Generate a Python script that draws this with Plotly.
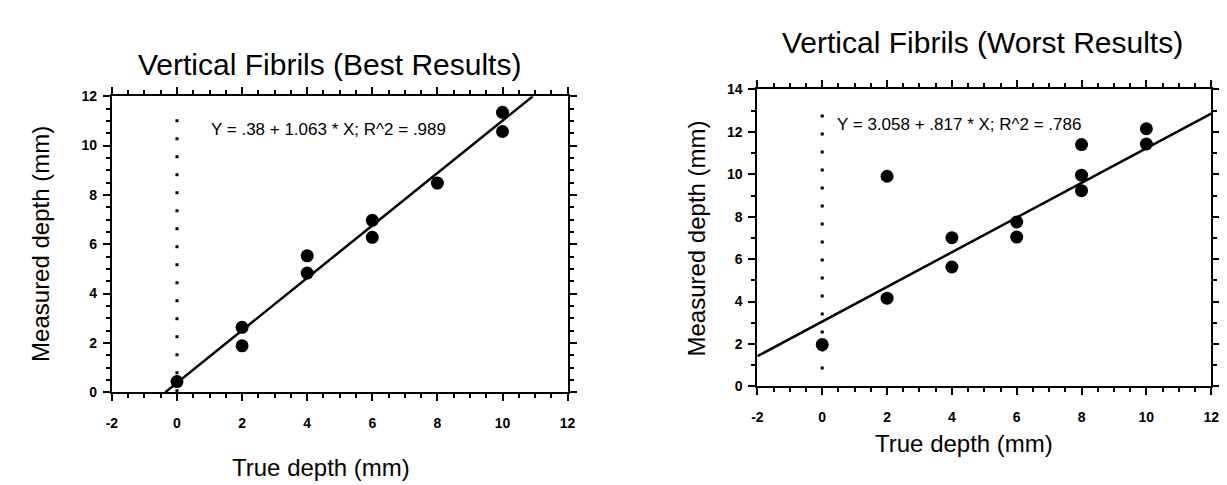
import plotly.graph_objects as go

# ---- data ----
best_x = [0, 2, 2, 4, 4, 6, 6, 8, 10, 10]
best_y = [0.43, 2.63, 1.88, 5.53, 4.83, 6.97, 6.28, 8.48, 11.35, 10.57]
best_intercept = 0.38
best_slope = 1.063
best_fit_x = [-0.357, 10.93]

worst_x = [0, 2, 2, 4, 4, 6, 6, 8, 8, 8, 10, 10]
worst_y = [1.97, 9.91, 4.16, 7.01, 5.63, 7.75, 7.04, 11.40, 9.96, 9.23, 12.15, 11.43]
worst_intercept = 3.058
worst_slope = 0.817
worst_fit_x = [-2, 12]

x_tickvals = [-2, 0, 2, 4, 6, 8, 10, 12]
x_ticktext = ["-2", "0", "2", "4", "6", "8", "10", "12"]
y_tickvals_best = [0, 2, 4, 6, 8, 10, 12]
y_tickvals_worst = [0, 2, 4, 6, 8, 10, 12, 14]

best_eq = "Y = .38 + 1.063 * X; R^2 = .989"
worst_eq = "Y = 3.058 + .817 * X; R^2 = .786"
titles = ["Vertical Fibrils (Best Results)", "Vertical Fibrils (Worst Results)"]
xlabel = "True depth (mm)"
ylabel = "Measured depth (mm)"
zero_line_best = [0, 11.4]
zero_line_worst = [0.8, 13.4]

FONT = "Liberation Sans, Arial, sans-serif"

fig = go.Figure()

def add_panel(xs, ys, b0, b1, fitx, zl, xa, ya):
    fig.add_trace(go.Scatter(x=[0, 0], y=zl, mode="lines", xaxis=xa, yaxis=ya,
                             line=dict(color="black", width=3, dash="3px,15px"),
                             showlegend=False, hoverinfo="skip"))
    fig.add_trace(go.Scatter(x=fitx, y=[b0 + b1 * v for v in fitx], mode="lines",
                             xaxis=xa, yaxis=ya, line=dict(color="black", width=2.5),
                             showlegend=False))
    fig.add_trace(go.Scatter(x=xs, y=ys, mode="markers", xaxis=xa, yaxis=ya,
                             marker=dict(color="black", size=13),
                             showlegend=False))

add_panel(best_x, best_y, best_intercept, best_slope, best_fit_x, zero_line_best, "x", "y")
add_panel(worst_x, worst_y, worst_intercept, worst_slope, worst_fit_x, zero_line_worst, "x2", "y2")

tickfont = dict(family=FONT, size=14, color="black", weight="bold")

def xaxis(domain, anchor):
    return dict(domain=domain, anchor=anchor, range=[-2, 12], tickmode="array",
                tickvals=x_tickvals, ticktext=x_ticktext,
                showgrid=False, zeroline=False, showline=True, linecolor="black", linewidth=2,
                mirror="ticks", ticks="outside", ticklen=7, tickwidth=2, tickcolor="black",
                tickfont=tickfont, ticklabelstandoff=10,
                minor=dict(dtick=0.5, tick0=-2, ticks="outside", ticklen=4, tickwidth=1.5,
                           tickcolor="black", showgrid=False))

def yaxis(domain, anchor, rng, tv, mdt):
    return dict(domain=domain, anchor=anchor, range=rng, tickmode="array",
                tickvals=tv, ticktext=[str(v) for v in tv],
                showgrid=False, zeroline=False, showline=True, linecolor="black", linewidth=2,
                mirror="ticks", ticks="outside", ticklen=7, tickwidth=2, tickcolor="black",
                tickfont=tickfont, ticklabelstandoff=3,
                minor=dict(dtick=mdt, tick0=0, ticks="outside", ticklen=4, tickwidth=1.5,
                           tickcolor="black", showgrid=False))

W, H = 1227, 485
fig.update_layout(
    width=W, height=H, margin=dict(l=0, r=0, t=0, b=0),
    paper_bgcolor="white", plot_bgcolor="white",
    font=dict(family=FONT, color="black"),
    xaxis=xaxis([99 / W, 560 / W], "y"),
    yaxis=yaxis([1 - 389 / H, 1 - 83 / H], "x", [0, 12], y_tickvals_best, 0.5),
    xaxis2=xaxis([752 / W, 1211 / W], "y2"),
    yaxis2=yaxis([1 - 383 / H, 1 - 76 / H], "x2", [0, 14], y_tickvals_worst, 1),
)

ann = [
    dict(text=titles[0], x=319 / W, y=1 - 50 / H, size=30, angle=0),
    dict(text=titles[1], x=980 / W, y=1 - 27 / H, size=30, angle=0),
    dict(text=xlabel, x=311 / W, y=1 - 467 / H, size=24, angle=0),
    dict(text=xlabel, x=961 / W, y=1 - 442 / H, size=24, angle=0),
    dict(text=ylabel, x=27 / W, y=1 - 236 / H, size=24, angle=-90),
    dict(text=ylabel, x=690 / W, y=1 - 230 / H, size=24, angle=-90),
]
for a in ann:
    fig.add_annotation(text=a["text"], x=a["x"], y=a["y"], xref="paper", yref="paper",
                       xanchor="center", yanchor="middle", showarrow=False, textangle=a["angle"],
                       font=dict(family=FONT, size=a["size"], color="black"))

fig.add_annotation(text=best_eq, x=0.97, y=10.67, xref="x", yref="y", xanchor="left", yanchor="middle",
                   showarrow=False, font=dict(family=FONT, size=17, color="black"))
fig.add_annotation(text=worst_eq, x=0.38, y=12.36, xref="x2", yref="y2", xanchor="left", yanchor="middle",
                   showarrow=False, font=dict(family=FONT, size=17, color="black"))

fig.write_html("out.html")
